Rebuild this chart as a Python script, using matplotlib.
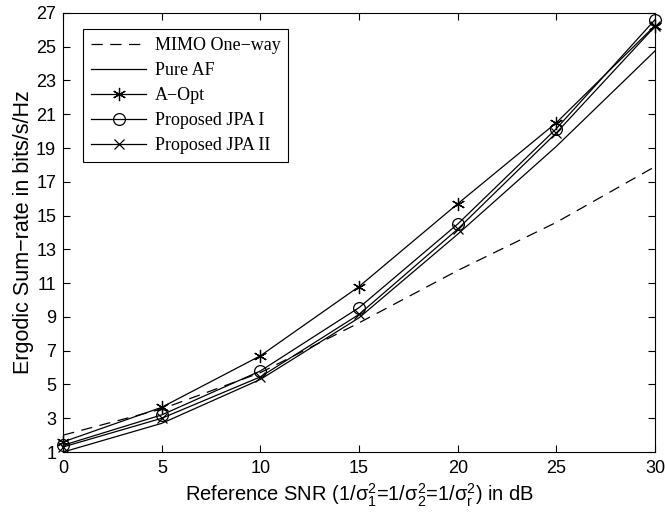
import matplotlib
matplotlib.use("Agg")
import matplotlib.pyplot as plt

snr = [0, 5, 10, 15, 20, 25, 30]
mimo_one_way = [2.0, 3.55, 5.7, 8.65, 11.75, 14.6, 17.9]
pure_af = [1.0, 2.7, 5.3, 8.95, 13.9, 19.1, 24.75]
a_opt = [1.6, 3.65, 6.7, 10.8, 15.7, 20.5, 26.25]
jpa1 = [1.4, 3.2, 5.8, 9.55, 14.5, 20.15, 26.6]
jpa2 = [1.3, 3.0, 5.45, 9.15, 14.2, 19.9, 26.2]

xticks = [0, 5, 10, 15, 20, 25, 30]
yticks = list(range(1, 28, 2))

plt.rcParams['font.family'] = ['Liberation Sans', 'DejaVu Sans']
plt.rcParams['mathtext.fontset'] = 'custom'
plt.rcParams['mathtext.rm'] = 'Liberation Sans'
plt.rcParams['mathtext.it'] = 'Liberation Sans'

fig = plt.figure(figsize=(6.65, 5.16), dpi=100)
ax = fig.add_axes([0.095, 0.124, 0.89, 0.851])

lw = 0.9
ax.plot(snr, mimo_one_way, color='black', lw=lw, ls=(0, (9, 6)), label='MIMO One\u2212way', clip_on=False)
ax.plot(snr, pure_af, color='black', lw=lw, label='Pure AF', clip_on=False)
ax.plot(snr, a_opt, color='black', lw=lw, marker=(6, 2, 0), ms=9.5, mew=0.9, label='A\u2212Opt', clip_on=False)
ax.plot(snr, jpa1, color='black', lw=lw, marker='o', ms=8.5, mfc='none', mew=0.9, label='Proposed JPA I', clip_on=False)
ax.plot(snr, jpa2, color='black', lw=lw, marker='x', ms=6.5, mew=0.9, label='Proposed JPA II', clip_on=False)

ax.set_xlim(0, 30)
ax.set_ylim(1, 27)
ax.set_xticks(xticks)
ax.set_yticks(yticks)
ax.tick_params(direction='in', top=True, right=True, labelsize=13, length=5, width=0.8)
ax.tick_params(axis='x', pad=6)
ax.tick_params(axis='y', pad=5)
for s in ax.spines.values():
    s.set_linewidth(0.8)

ax.set_xlabel('Reference SNR ($\\mathregular{1/\\sigma_1^2}$=$\\mathregular{1/\\sigma_2^2}$=$\\mathregular{1/\\sigma_r^2}$) in dB', fontsize=14.5, labelpad=3)
ax.set_ylabel('Ergodic Sum\u2212rate in bits/s/Hz', fontsize=15.5, labelpad=1.5)

leg = ax.legend(loc='upper left', bbox_to_anchor=(0.034, 0.964), borderaxespad=0,
                prop={'family': 'Liberation Serif', 'size': 13},
                frameon=True, fancybox=False, edgecolor='black', framealpha=1,
                handlelength=3.0, labelspacing=0.45, borderpad=0.45, handletextpad=0.5)
leg.get_frame().set_linewidth(0.8)

fig.savefig('out.png', dpi=100)
